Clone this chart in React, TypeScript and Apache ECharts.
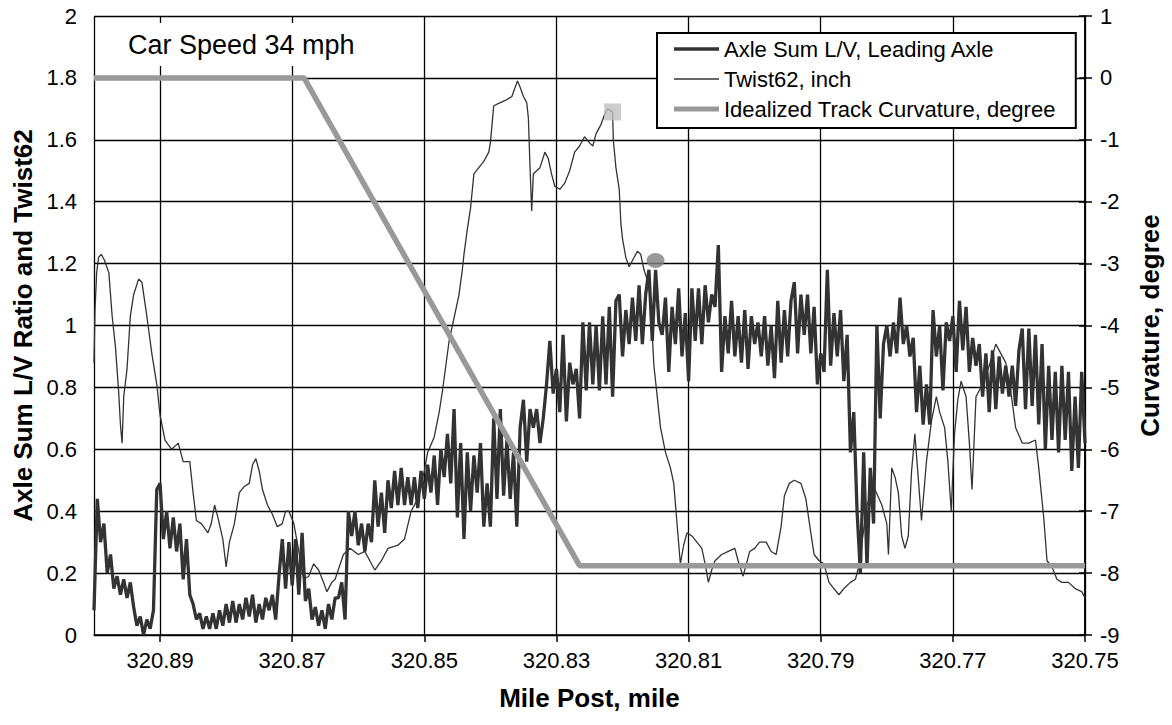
import React, { useEffect, useRef } from "react";
import * as echarts from "echarts";

// Mile post tick labels (x axis, reversed)
const X_TICKS = ["320.89", "320.87", "320.85", "320.83", "320.81", "320.79", "320.77", "320.75"];
const MP_RIGHT = 320.75;
const MP_LEFT = 320.9;

// Axle Sum L/V, Leading Axle: [mile post, L/V]
const LV: [number, number][] = [
  [320.9,0.08],[320.8995,0.44],[320.899,0.30],[320.8985,0.36],[320.898,0.20],[320.8975,0.26],[320.897,0.15],[320.8965,0.19],[320.896,0.13],[320.8955,0.18],
  [320.895,0.12],[320.8945,0.17],[320.894,0.09],[320.8935,0.03],[320.893,0.06],[320.8925,0.00],[320.892,0.05],[320.8915,0.02],[320.891,0.08],[320.8905,0.47],
  [320.89,0.49],[320.8895,0.31],[320.889,0.40],[320.8885,0.28],[320.888,0.38],[320.8875,0.27],[320.887,0.36],[320.8865,0.18],[320.886,0.31],[320.8855,0.13],
  [320.885,0.10],[320.8845,0.05],[320.884,0.07],[320.8835,0.02],[320.883,0.06],[320.8825,0.02],[320.882,0.07],[320.8815,0.02],[320.881,0.08],[320.8805,0.03],
  [320.88,0.10],[320.8795,0.04],[320.879,0.11],[320.8785,0.04],[320.878,0.10],[320.8775,0.05],[320.877,0.12],[320.8765,0.06],[320.876,0.13],[320.8755,0.04],
  [320.875,0.10],[320.8745,0.05],[320.874,0.12],[320.8735,0.08],[320.873,0.13],[320.8725,0.05],[320.872,0.19],[320.8715,0.31],[320.871,0.15],[320.8705,0.30],
  [320.87,0.16],[320.8695,0.31],[320.869,0.13],[320.8685,0.33],[320.868,0.11],[320.8675,0.15],[320.867,0.05],[320.8665,0.09],[320.866,0.03],[320.8655,0.08],
  [320.865,0.02],[320.8645,0.10],[320.864,0.05],[320.8635,0.12],[320.863,0.12],[320.8625,0.17],[320.862,0.05],[320.8615,0.40],[320.861,0.32],[320.8605,0.40],
  [320.86,0.29],[320.8595,0.36],[320.859,0.27],[320.8585,0.36],[320.858,0.30],[320.8575,0.50],[320.857,0.35],[320.8565,0.46],[320.856,0.33],[320.8555,0.50],
  [320.855,0.41],[320.8545,0.53],[320.854,0.42],[320.8535,0.54],[320.853,0.42],[320.8525,0.51],[320.852,0.42],[320.8515,0.51],[320.851,0.41],[320.8505,0.53],
  [320.85,0.44],[320.8495,0.55],[320.849,0.46],[320.8485,0.58],[320.848,0.42],[320.8475,0.60],[320.847,0.51],[320.8465,0.65],[320.846,0.49],[320.8455,0.73],
  [320.845,0.38],[320.8445,0.62],[320.844,0.31],[320.8435,0.59],[320.843,0.40],[320.8425,0.58],[320.842,0.46],[320.8415,0.62],[320.841,0.35],[320.8405,0.49],
  [320.84,0.35],[320.8395,0.70],[320.839,0.44],[320.8385,0.73],[320.838,0.45],[320.8375,0.63],[320.837,0.44],[320.8365,0.59],[320.836,0.35],[320.8355,0.67],
  [320.835,0.76],[320.8345,0.56],[320.834,0.73],[320.8335,0.67],[320.833,0.73],[320.8325,0.62],[320.832,0.70],[320.8315,0.81],[320.831,0.95],[320.8305,0.78],
  [320.83,0.86],[320.8295,0.72],[320.829,0.97],[320.8285,0.69],[320.828,0.88],[320.8275,0.81],[320.827,0.86],[320.8265,0.70],[320.826,1.01],[320.8255,0.79],
  [320.825,1.01],[320.8245,0.81],[320.824,1.00],[320.8235,0.79],[320.823,1.03],[320.8225,0.81],[320.822,1.06],[320.8215,0.77],[320.821,1.08],[320.8205,1.10],
  [320.82,0.90],[320.8195,1.05],[320.819,0.94],[320.8185,1.09],[320.818,0.95],[320.8175,1.13],[320.817,0.94],[320.8165,1.10],[320.816,1.18],[320.8155,0.95],
  [320.815,1.18],[320.8145,1.01],[320.814,0.97],[320.8135,1.09],[320.813,0.85],[320.8125,1.06],[320.812,0.94],[320.8115,1.12],[320.811,0.90],[320.8105,1.04],
  [320.81,0.82],[320.8095,1.12],[320.809,0.95],[320.8085,1.12],[320.808,0.94],[320.8075,1.13],[320.807,1.01],[320.8065,1.10],[320.806,1.06],[320.8055,1.26],
  [320.805,0.85],[320.8045,1.03],[320.804,0.91],[320.8035,1.08],[320.803,0.90],[320.8025,1.03],[320.802,0.88],[320.8015,1.05],[320.801,0.86],[320.8005,1.03],
  [320.8,0.94],[320.7995,1.01],[320.799,0.90],[320.7985,1.03],[320.798,0.87],[320.7975,1.00],[320.797,0.83],[320.7965,1.08],[320.796,0.88],[320.7955,1.05],
  [320.795,0.90],[320.7945,1.08],[320.794,1.14],[320.7935,0.91],[320.793,1.10],[320.7925,0.97],[320.792,1.10],[320.7915,0.91],[320.791,1.06],[320.7905,0.81],
  [320.79,0.91],[320.7895,0.85],[320.789,1.18],[320.7885,0.87],[320.788,1.04],[320.7875,0.90],[320.787,1.05],[320.7865,0.82],[320.786,0.97],[320.7855,0.59],
  [320.785,0.72],[320.7845,0.40],[320.784,0.20],[320.7835,0.59],[320.783,0.22],[320.7825,0.54],[320.782,0.36],[320.7815,1.00],[320.781,0.70],[320.7805,0.94],
  [320.78,1.00],[320.7795,0.90],[320.779,1.01],[320.7785,0.91],[320.778,1.09],[320.7775,0.94],[320.777,1.00],[320.7765,0.90],[320.776,0.96],[320.7755,0.72],
  [320.775,0.87],[320.7745,0.68],[320.774,0.81],[320.7735,0.68],[320.773,1.05],[320.7725,0.90],[320.772,1.00],[320.7715,0.79],[320.771,1.01],[320.7705,0.95],
  [320.77,1.03],[320.7695,0.85],[320.769,1.08],[320.7685,0.92],[320.768,1.06],[320.7675,0.85],[320.767,0.96],[320.7665,0.87],[320.766,0.94],[320.7655,0.77],
  [320.765,0.91],[320.7645,0.72],[320.764,0.92],[320.7635,0.73],[320.763,0.90],[320.7625,0.78],[320.762,0.87],[320.7615,0.77],[320.761,0.87],[320.7605,0.74],
  [320.76,0.92],[320.7595,0.99],[320.759,0.73],[320.7585,0.99],[320.758,0.74],[320.7575,0.97],[320.757,0.68],[320.7565,0.94],[320.756,0.60],[320.7555,0.87],
  [320.755,0.63],[320.7545,0.85],[320.754,0.59],[320.7535,0.87],[320.753,0.63],[320.7525,0.85],[320.752,0.53],[320.7515,0.77],[320.751,0.54],[320.7505,0.85],
  [320.75,0.62],
];

// Twist62, inch: [mile post, inch]
const TWIST: [number, number][] = [
  [320.9,0.88],[320.89985,1.05],[320.8996,1.17],[320.8993,1.22],[320.8989,1.23],[320.8984,1.21],[320.89775,1.17],[320.89725,1.03],
  [320.89675,0.93],[320.89625,0.78],[320.896,0.68],[320.89575,0.62],[320.8955,0.77],[320.895,0.86],[320.8945,1.03],[320.894,1.10],
  [320.89325,1.15],[320.89275,1.14],[320.892,1.03],[320.89125,0.91],[320.8905,0.81],[320.89,0.71],[320.88925,0.63],[320.88825,0.60],
  [320.88725,0.62],[320.8865,0.56],[320.8855,0.56],[320.885,0.46],[320.8845,0.37],[320.88375,0.36],[320.88275,0.33],[320.88225,0.36],
  [320.88175,0.42],[320.88125,0.38],[320.8805,0.31],[320.88,0.22],[320.8795,0.30],[320.87875,0.36],[320.878,0.46],[320.87725,0.48],
  [320.8765,0.49],[320.876,0.55],[320.8755,0.57],[320.875,0.53],[320.8745,0.47],[320.87375,0.42],[320.873,0.39],[320.87225,0.35],
  [320.8715,0.36],[320.871,0.40],[320.8705,0.40],[320.86975,0.36],[320.869,0.27],[320.86825,0.18],[320.8675,0.19],[320.86675,0.23],
  [320.866,0.21],[320.86525,0.17],[320.86475,0.14],[320.864,0.17],[320.8635,0.18],[320.86225,0.26],[320.86125,0.28],[320.86,0.26],
  [320.859,0.27],[320.8575,0.21],[320.8565,0.24],[320.8555,0.28],[320.854,0.29],[320.853,0.31],[320.852,0.40],[320.851,0.44],
  [320.85,0.53],[320.8495,0.59],[320.8485,0.64],[320.84775,0.72],[320.84725,0.79],[320.84675,0.87],[320.84625,0.95],[320.84575,1.00],
  [320.84525,1.05],[320.84475,1.10],[320.84425,1.18],[320.844,1.23],[320.8435,1.31],[320.843,1.38],[320.8425,1.49],[320.84175,1.51],
  [320.841,1.53],[320.84025,1.56],[320.84,1.59],[320.83975,1.65],[320.8395,1.71],[320.8385,1.72],[320.8375,1.73],[320.83675,1.74],
  [320.83625,1.77],[320.8359,1.79],[320.8355,1.77],[320.835,1.74],[320.8345,1.72],[320.83425,1.67],[320.834,1.51],[320.83375,1.37],
  [320.8335,1.49],[320.833,1.50],[320.8325,1.51],[320.83175,1.56],[320.83125,1.54],[320.83075,1.49],[320.83025,1.45],[320.8295,1.44],
  [320.82875,1.46],[320.828,1.50],[320.82725,1.56],[320.8265,1.58],[320.82575,1.61],[320.825,1.59],[320.8245,1.58],[320.824,1.62],
  [320.82325,1.65],[320.82275,1.68],[320.82225,1.70],[320.8215,1.69],[320.8214,1.60],[320.821,1.51],[320.8205,1.44],[320.82025,1.33],
  [320.82,1.28],[320.8195,1.22],[320.819,1.19],[320.8185,1.21],[320.81775,1.24],[320.81725,1.23],[320.81675,1.18],[320.816,1.13],
  [320.8155,0.97],[320.81525,0.87],[320.81475,0.77],[320.81425,0.67],[320.8135,0.59],[320.81275,0.54],[320.81225,0.49],[320.81175,0.36],
  [320.81125,0.23],[320.81075,0.29],[320.81025,0.33],[320.8095,0.32],[320.80875,0.30],[320.808,0.28],[320.8075,0.23],[320.807,0.17],
  [320.8065,0.21],[320.806,0.24],[320.805,0.26],[320.804,0.27],[320.803,0.28],[320.8025,0.24],[320.80175,0.19],[320.80125,0.23],
  [320.80075,0.27],[320.8,0.28],[320.79925,0.30],[320.79825,0.30],[320.7975,0.27],[320.79675,0.26],[320.796,0.35],[320.7955,0.45],
  [320.79475,0.49],[320.794,0.50],[320.793,0.49],[320.79225,0.44],[320.7915,0.33],[320.791,0.26],[320.79025,0.24],[320.7895,0.23],
  [320.78875,0.17],[320.788,0.15],[320.78725,0.13],[320.7865,0.15],[320.7855,0.17],[320.78475,0.18],[320.78425,0.22],[320.78375,0.30],
  [320.783,0.42],[320.782,0.48],[320.78075,0.42],[320.78,0.36],[320.77975,0.26],[320.77925,0.54],[320.77875,0.51],[320.77825,0.46],
  [320.77775,0.32],[320.77725,0.28],[320.77675,0.32],[320.77625,0.53],[320.77575,0.65],[320.77525,0.51],[320.77475,0.37],[320.774,0.56],
  [320.77325,0.69],[320.7725,0.77],[320.772,0.72],[320.77125,0.67],[320.77075,0.56],[320.77025,0.40],[320.76975,0.65],[320.76925,0.76],
  [320.76875,0.82],[320.768,0.77],[320.7675,0.62],[320.7671,0.47],[320.7665,0.77],[320.7655,0.81],[320.7645,0.87],[320.7635,0.94],
  [320.76275,0.91],[320.762,0.88],[320.76125,0.79],[320.7605,0.67],[320.7595,0.62],[320.7585,0.62],[320.7575,0.63],[320.757,0.54],
  [320.75625,0.38],[320.75575,0.24],[320.755,0.22],[320.75425,0.18],[320.7535,0.17],[320.7525,0.17],[320.7515,0.15],[320.7505,0.14],
  [320.75,0.12],
];

// Idealized Track Curvature, degree: [mile post, degree]
const CURVATURE: [number, number][] = [
  [320.9, 0], [320.8682, 0], [320.8265, -7.88], [320.75, -7.88],
];

// Highlighted points
const SQUARE_PT: [number, number][] = [[320.8215, 1.69]];
const CIRCLE_PT: [number, number][] = [[320.815, 1.21]];

const NAMES = ["Axle Sum L/V, Leading Axle", "Twist62, inch", "Idealized Track Curvature, degree"];
const FONT = "'Liberation Sans', Arial, sans-serif";

const toX = (mp: number) => Math.round((mp - MP_RIGHT) * 100000) / 1000;
const conv = (arr: [number, number][]) => arr.map(([m, v]) => [toX(m), v]);

export default function App() {
  const ref = useRef<HTMLDivElement>(null);
  useEffect(() => {
    if (!ref.current) return;
    const chart = echarts.init(ref.current, null, { renderer: "svg" });
    const span = toX(MP_LEFT);
    chart.setOption({
      animation: false,
      backgroundColor: "#fff",
      textStyle: { fontFamily: FONT },
      grid: { left: 94, right: 87, top: 16, bottom: 90, containLabel: false },
      legend: {
        data: [
          { name: NAMES[0], icon: "path://M0,0h45v3.4h-45z", itemStyle: { color: "#333", borderWidth: 0 } },
          { name: NAMES[1], icon: "path://M0,0h45v1.3h-45z", itemStyle: { color: "#333", borderWidth: 0 } },
          { name: NAMES[2], icon: "path://M0,0h45v5h-45z", itemStyle: { color: "#999", borderWidth: 0 } },
        ],
        orient: "vertical",
        left: 657,
        top: 33,
        backgroundColor: "#fff",
        borderColor: "#000",
        borderWidth: 2,
        borderRadius: 0,
        padding: [5, 20, 8, 17],
        itemWidth: 45,
        itemHeight: 22,
        itemGap: 8,
        symbolKeepAspect: true,
        textStyle: { fontSize: 22, color: "#000", fontFamily: FONT },
      },
      xAxis: {
        type: "value",
        min: 0,
        max: span,
        interval: 2,
        inverse: true,
        name: "Mile Post, mile",
        nameLocation: "middle",
        nameGap: 50,
        nameTextStyle: { fontSize: 26, fontWeight: "bold", color: "#000", fontFamily: FONT },
        axisLine: { show: true, lineStyle: { color: "#000", width: 1.5 } },
        axisTick: { show: true, length: 7, lineStyle: { color: "#000", width: 1.5 } },
        axisLabel: {
          fontSize: 22,
          color: "#000",
          fontFamily: FONT,
          margin: 14,
          showMaxLabel: false,
          formatter: (v: number) => {
            const idx = X_TICKS.findIndex((t) => Math.abs(toX(parseFloat(t)) - v) < 1e-6);
            return idx >= 0 ? X_TICKS[idx] : "";
          },
        },
        splitLine: { show: true, lineStyle: { color: "#000", width: 1.3 } },
      },
      yAxis: [
        {
          type: "value",
          min: 0,
          max: 2,
          interval: 0.2,
          position: "left",
          name: "Axle Sum L/V Ratio and Twist62",
          nameLocation: "middle",
          nameRotate: 90,
          nameGap: 56,
          nameTextStyle: { fontSize: 26, fontWeight: "bold", color: "#000", fontFamily: FONT },
          axisLine: { show: true, lineStyle: { color: "#000", width: 1.5 } },
          axisTick: { show: true, length: 6, lineStyle: { color: "#000", width: 1.5 } },
          axisLabel: {
            fontSize: 22,
            color: "#000",
            fontFamily: FONT,
            margin: 17,
            formatter: (v: number) => String(Math.round(v * 10) / 10),
          },
          splitLine: { show: true, lineStyle: { color: "#000", width: 1.3 } },
        },
        {
          type: "value",
          min: -9,
          max: 1,
          interval: 1,
          position: "right",
          name: "Curvature, degree",
          nameLocation: "middle",
          nameRotate: 90,
          nameGap: 52,
          nameTextStyle: { fontSize: 26, fontWeight: "bold", color: "#000", fontFamily: FONT },
          axisLine: { show: true, lineStyle: { color: "#000", width: 1.5 } },
          axisTick: { show: true, length: 7, lineStyle: { color: "#000", width: 1.5 } },
          axisLabel: { fontSize: 22, color: "#000", fontFamily: FONT, margin: 15 },
          splitLine: { show: false },
        },
      ],
      graphic: [
        {
          type: "rect",
          z: 100,
          shape: { x: 108, y: 23, width: 272, height: 43 },
          style: { fill: "#fff" },
        },
        {
          type: "text",
          z: 101,
          x: 128,
          y: 45,
          style: {
            text: "Car Speed 34 mph",
            fontSize: 27,
            fontFamily: FONT,
            fill: "#000",
            verticalAlign: "middle",
          },
        },
      ],
      series: [
        {
          name: NAMES[0],
          type: "line",
          yAxisIndex: 0,
          data: conv(LV),
          symbol: "none",
          showSymbol: false,
          lineStyle: { color: "#333", width: 3.3 },
          itemStyle: { color: "#333" },
          z: 2,
        },
        {
          name: NAMES[1],
          type: "line",
          yAxisIndex: 0,
          data: conv(TWIST),
          symbol: "none",
          showSymbol: false,
          lineStyle: { color: "#333", width: 1.3 },
          itemStyle: { color: "#333" },
          z: 3,
        },
        {
          name: NAMES[2],
          type: "line",
          yAxisIndex: 1,
          data: conv(CURVATURE),
          symbol: "none",
          showSymbol: false,
          lineStyle: { color: "#999", width: 5.5 },
          itemStyle: { color: "#999" },
          z: 4,
        },
        {
          name: "peak twist",
          type: "scatter",
          yAxisIndex: 0,
          data: conv(SQUARE_PT),
          symbol: "rect",
          symbolSize: 17,
          itemStyle: { color: "#c0c0c0" },
          z: 5,
        },
        {
          name: "peak L/V",
          type: "scatter",
          yAxisIndex: 0,
          data: conv(CIRCLE_PT),
          symbol: "circle",
          symbolSize: [18, 15],
          itemStyle: { color: "#808080" },
          z: 5,
        },
      ],
    });
    return () => chart.dispose();
  }, []);
  return (
    <div
      ref={ref}
      style={{ position: "fixed", left: 0, top: 0, width: 1172, height: 725, background: "#fff" }}
    />
  );
}
